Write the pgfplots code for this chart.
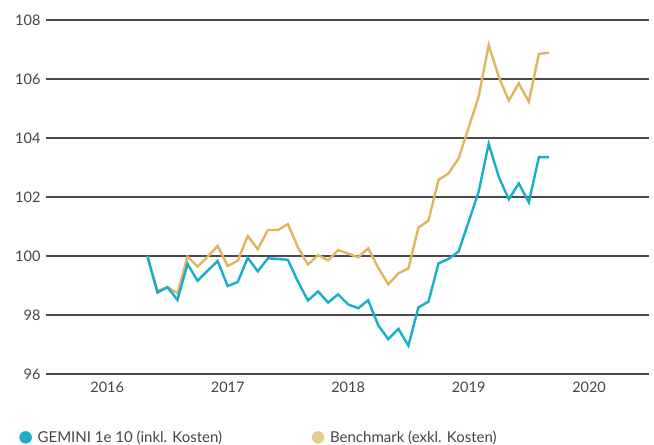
\documentclass[border=0pt]{standalone}
\usepackage{fontspec}
\setmainfont{Lato}
\usepackage{pgfplots}
\pgfplotsset{compat=1.18}
\usepackage{pgfplotstable}
\definecolor{teal1}{HTML}{17AFC7}
\definecolor{gold1}{HTML}{DDB65F}
\definecolor{goldleg}{HTML}{E5CC8C}
\definecolor{txt}{HTML}{454545}
\definecolor{gridc}{HTML}{4A4A4A}
\pgfplotstableread{
i gemini bench
0 100.00 100.00
1 98.76 98.82
2 98.94 98.94
3 98.51 98.74
4 99.73 99.98
5 99.16 99.64
6 99.50 99.98
7 99.83 100.34
8 98.98 99.66
9 99.12 99.84
10 99.94 100.68
11 99.48 100.23
12 99.92 100.88
13 99.90 100.88
14 99.87 101.08
15 99.13 100.29
16 98.49 99.71
17 98.80 100.03
18 98.42 99.85
19 98.70 100.20
20 98.36 100.08
21 98.23 99.96
22 98.50 100.26
23 97.65 99.60
24 97.18 99.04
25 97.53 99.41
26 96.96 99.58
27 98.26 100.96
28 98.45 101.20
29 99.75 102.58
30 99.90 102.80
31 100.15 103.31
32 101.16 104.35
33 102.18 105.40
34 103.80 107.15
35 102.69 106.08
36 101.92 105.27
37 102.46 105.85
38 101.82 105.23
39 103.35 106.85
40 103.35 106.89
}\datatable
\begin{document}
\begin{tikzpicture}
\begin{axis}[
  scale only axis,
  width=603.3bp, height=354bp,
  xmin=-10.1, xmax=50,
  ymin=96, ymax=108,
  xtick={-4,8,20,32,44},
  xticklabels={2016,2017,2018,2019,2020},
  ytick={96,98,...,108},
  ymajorgrids,
  major grid style={gridc, line width=1.1bp},
  axis line style={draw=none},
  tick style={draw=none},
  /pgf/number format/assume math mode=true,
  /pgf/number format/1000 sep={},
  ticklabel style={font=\fontsize{14.5bp}{17bp}\selectfont, text=txt},
  xticklabel style={yshift=-4bp},
  yticklabel style={xshift=-2bp},
  legend columns=2,
  legend style={draw=none, fill=none, at={(-0.049,-0.179)}, anchor=west,
    font=\fontsize{15bp}{18bp}\selectfont, text=txt,
    /tikz/every odd column/.append style={column sep=4bp},
    /tikz/every even column/.append style={column sep=88bp}},
  legend cell align=left,
]
\addplot[gold1, line width=2.4bp, forget plot] table[x=i, y=bench] {\datatable};
\addplot[teal1, line width=2.4bp, forget plot] table[x=i, y=gemini] {\datatable};
\addlegendimage{only marks, mark=*, mark size=6bp, color=teal1}
\addlegendentry{GEMINI 1e 10 (inkl. Kosten)}
\addlegendimage{only marks, mark=*, mark size=6bp, color=goldleg}
\addlegendentry{Benchmark (exkl. Kosten)}
\end{axis}
\pgfresetboundingbox
\useasboundingbox ([xshift=-46bp,yshift=20bp]current axis.north west) rectangle ([xshift=4.7bp,yshift=-71bp]current axis.south east);
\end{tikzpicture}
\end{document}
